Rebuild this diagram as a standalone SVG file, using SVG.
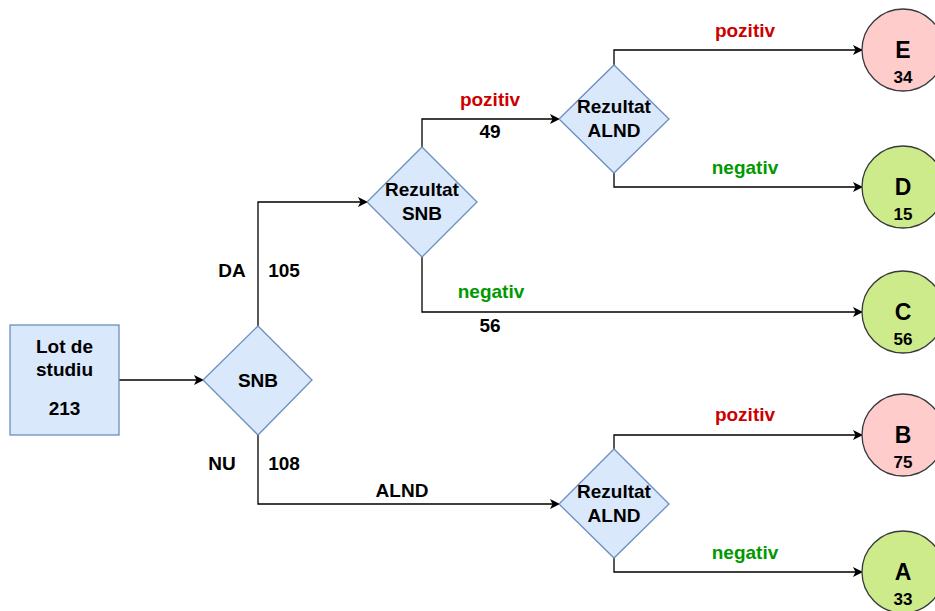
<svg xmlns="http://www.w3.org/2000/svg" width="935" height="611" viewBox="0 0 935 611">
<defs>
<marker id="arr" viewBox="0 0 10 10" refX="9" refY="5" markerWidth="10" markerHeight="10" markerUnits="userSpaceOnUse" orient="auto">
<path d="M0,0 L10,5 L0,10 L2.5,5 Z" fill="#000"/>
</marker>
<style>
text{font-family:"Liberation Sans",Arial,sans-serif;font-weight:bold;text-anchor:middle;fill:#000}
.blue{fill:#dae8fc;stroke:#6c8ebf;stroke-width:1.3}
.red{fill:#ffcccc;stroke:#36393d;stroke-width:1.3}
.green{fill:#cdeb8b;stroke:#36393d;stroke-width:1.3}
.conn{fill:none;stroke:#000;stroke-width:1.3;marker-end:url(#arr)}
.lbl{font-size:19px}
.pos{fill:#cc0000}
.neg{fill:#009900}
.big{font-size:23px}
.num{font-size:17px}
.nd{font-size:19px}
</style>
</defs>
<rect width="935" height="611" fill="#fff"/>
<g id="connectors">
<path class="conn" d="M119,380 H203"/>
<path class="conn" d="M258,326 V202 H367"/>
<path class="conn" d="M258,435 V504 H559"/>
<path class="conn" d="M422,147 V119 H559"/>
<path class="conn" d="M422,257 V312 H862"/>
<path class="conn" d="M614,65 V50 H862"/>
<path class="conn" d="M614,173 V187 H862"/>
<path class="conn" d="M614,449 V435 H862"/>
<path class="conn" d="M614,558 V572 H862"/>
</g>
<g id="labels" class="lbl">
<text x="232" y="277">DA</text>
<text x="284" y="277">105</text>
<text x="222" y="470">NU</text>
<text x="284" y="470">108</text>
<text x="402" y="497">ALND</text>
<text x="490" y="106" class="pos">pozitiv</text>
<text x="490" y="138">49</text>
<text x="491" y="298" class="neg">negativ</text>
<text x="490" y="332">56</text>
<text x="745" y="37" class="pos">pozitiv</text>
<text x="745" y="174" class="neg">negativ</text>
<text x="745" y="421" class="pos">pozitiv</text>
<text x="745" y="559" class="neg">negativ</text>
</g>
<g id="lot">
<rect class="blue" x="10" y="325" width="109" height="110"/>
<text class="nd" x="64.5" y="353">Lot de</text>
<text class="nd" x="64.5" y="376">studiu</text>
<text class="nd" x="64.5" y="415">213</text>
</g>
<g id="snb">
<path class="blue" d="M258,326 L312,380 L258,435 L203,380 Z"/>
<text class="nd" x="258" y="387">SNB</text>
</g>
<g id="rez-snb">
<path class="blue" d="M422,147 L477,202 L422,257 L367,202 Z"/>
<text class="nd" x="422" y="196">Rezultat</text>
<text class="nd" x="422" y="220">SNB</text>
</g>
<g id="rez-alnd-1">
<path class="blue" d="M614,65 L669,119 L614,173 L559,119 Z"/>
<text class="nd" x="614" y="113">Rezultat</text>
<text class="nd" x="614" y="137">ALND</text>
</g>
<g id="rez-alnd-2">
<path class="blue" d="M614,449 L669,504 L614,558 L559,504 Z"/>
<text class="nd" x="614" y="498">Rezultat</text>
<text class="nd" x="614" y="522">ALND</text>
</g>
<g id="E">
<circle class="red" cx="903" cy="50" r="41"/>
<text class="big" x="903" y="58">E</text>
<text class="num" x="903" y="83">34</text>
</g>
<g id="D">
<circle class="green" cx="903" cy="187" r="41"/>
<text class="big" x="903" y="195">D</text>
<text class="num" x="903" y="220">15</text>
</g>
<g id="C">
<circle class="green" cx="903" cy="312" r="41"/>
<text class="big" x="903" y="320">C</text>
<text class="num" x="903" y="345">56</text>
</g>
<g id="B">
<circle class="red" cx="903" cy="435" r="41"/>
<text class="big" x="903" y="443">B</text>
<text class="num" x="903" y="468">75</text>
</g>
<g id="A">
<circle class="green" cx="903" cy="572" r="41"/>
<text class="big" x="903" y="580">A</text>
<text class="num" x="903" y="605">33</text>
</g>
</svg>
